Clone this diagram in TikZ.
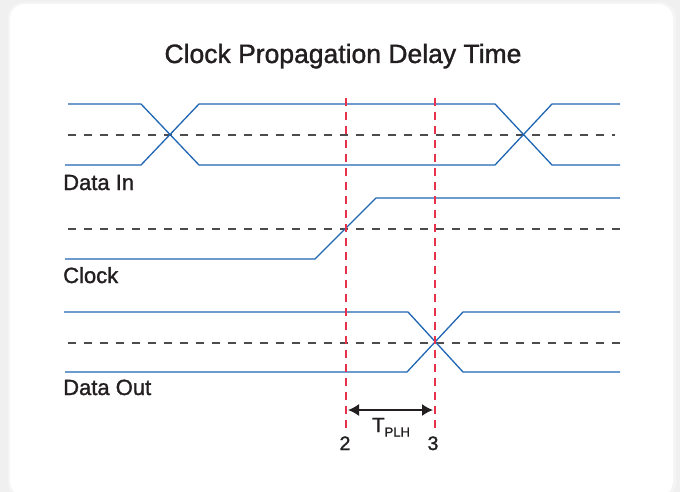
\documentclass[tikz,border=0pt]{standalone}
\usepackage{fontspec}
\setmainfont[FakeBold=1.3]{Liberation Sans}
\usepackage{xcolor}
\usepackage{tikz}
\usetikzlibrary{positioning,calc,arrows.meta}

\definecolor{wireblue}{HTML}{1F66B3}
\definecolor{markred}{HTML}{E8324C}
\definecolor{inkgray}{HTML}{231F20}
\definecolor{cardbg}{HTML}{F0F0F0}

\begin{document}
\begin{tikzpicture}[x=1pt,y=-1pt,
    wave/.style={wireblue, line width=1.3pt, line join=miter},
    midline/.style={black!70, line width=1.2pt, dash pattern=on 8pt off 8pt},
    marker/.style={markred, line width=1.6pt, dash pattern=on 8pt off 6pt},
    sig/.style={inkgray, anchor=base west, font=\fontsize{22}{24}\selectfont, inner sep=0pt},
    num/.style={inkgray, anchor=base, font=\fontsize{19.5}{22}\selectfont, inner sep=0pt}]
    \useasboundingbox (0,0) rectangle (680,492);
    % Card
    \fill[cardbg] (0,0) rectangle (680,492);
    \fill[black!4, rounded corners=16pt] (8,2) rectangle (676,498);
    \fill[white, rounded corners=15pt] (10,4) rectangle (673,496);

    % Title
    \node[inkgray, anchor=base, font=\fontsize{26.5}{30}\selectfont, inner sep=0pt] (title) at (343,63) {Clock Propagation Delay Time};

    % Data In
    \draw[midline] (68,135) -- (615,135);
    \draw[wave] (68,104) -- (141,104) -- (199,165) -- (495,165) -- (552,104) -- (620,104);
    \draw[wave] (65,165) -- (141,165) -- (199,104) -- (495,104) -- (552,165) -- (620,165);
    \node[sig] (datain) at (63,190) {Data In};

    % Clock
    \draw[midline] (68,229) -- (620,229);
    \draw[wave] (65,259) -- (315,259) -- (376,198) -- (620,198);
    \node[sig] (clock) at (63,283) {Clock};

    % Data Out
    \draw[midline] (68,343) -- (620,343);
    \draw[wave] (64,312) -- (408,312) -- (463,372) -- (620,372);
    \draw[wave] (65,372) -- (407,372) -- (463,312) -- (620,312);
    \node[sig] (dataout) at (63,395) {Data Out};

    % Markers
    \coordinate (m2) at (346,98);
    \coordinate (m3) at (435,98);
    \draw[marker] (m2) -- ++(0,330);
    \draw[marker] (m3) -- ++(0,330);
    \node[num] (n2) at (345,450) {2};
    \node[num] (n3) at (433,450) {3};

    % Delay
    \coordinate (d2) at ($(m2)+(2,312)$);
    \coordinate (d3) at ($(m3)+(-2,312)$);
    \draw[{Latex[length=11pt,width=12pt]}-{Latex[length=11pt,width=12pt]}, line width=1.5pt, inkgray] (d2) -- (d3);
    \node[inkgray, anchor=base, font=\fontsize{20.5}{22}\selectfont, inner sep=0pt] (tplh) at (391,432)
        {T\raisebox{-4.5pt}{\fontsize{13}{15}\selectfont PLH}};
\end{tikzpicture}
\end{document}
